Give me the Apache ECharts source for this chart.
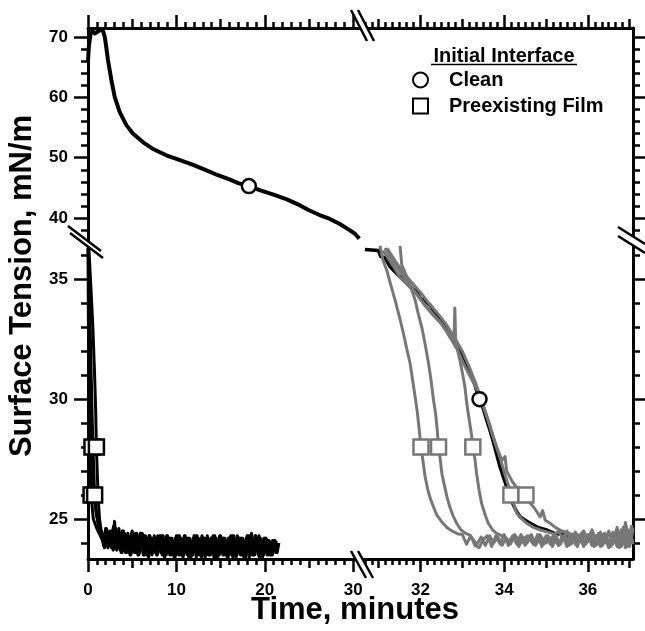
<!DOCTYPE html>
<html><head><meta charset="utf-8">
<script src="https://cdn.jsdelivr.net/npm/echarts@6/dist/echarts.min.js"></script>
<style>html,body{margin:0;padding:0;background:#fff}#c{width:645px;height:631px}</style>
</head><body><div id="c"></div>
<script>
// ---------------- DATA ----------------
// Axis segments (broken axes)
const X_LEFT = [0, 31];
const X_RIGHT = [30.6, 37.08];
const Y_UP = [36.2, 71.5];
const Y_LOW = [23.33, 36.6];

// tick labels
const xLabelsLeft = [0, 10, 20, 30];
const xLabelsRight = [32, 34, 36];
const yLabelsUp = [40, 50, 60, 70];
const yLabelsLow = [25, 30, 35];
const xMidLeft = [5, 15, 25];
const xMidRight = [31, 33, 35, 37];

// Clean interface (black), part 1 (upper-left segment)
const cleanUpper = [[0,66.0],[0.1,68.5],[0.3,70.6],[0.5,71.0],[0.8,70.6],[1.1,70.9],[1.4,71.2],[1.7,71.0],[1.9,70.0],[2.05,68.5],[2.26,66.2],[2.64,62.9],[3.02,60.1],[3.58,57.6],[4.34,55.4],[5.08,54.0],[6.2,52.6],[7.3,51.5],[8.86,50.4],[10.4,49.6],[11.9,48.8],[13.4,47.9],[14.7,47.1],[16.0,46.4],[17.0,45.8],[18.2,45.3],[19.5,44.6],[21.0,43.9],[22.5,43.1],[24.0,42.1],[25.0,41.3],[26.2,40.5],[27.3,39.9],[28.4,39.1],[29.6,38.0],[30.2,37.4],[30.7,36.6]];
// Clean interface (black), part 2 (lower-right segment)
const cleanLower = [[30.67,36.25],[30.99,36.2],[31.05,35.95],[31.15,35.9],[31.27,35.53],[31.4,35.3],[31.55,35.04],[31.65,34.9],[31.79,34.63],[31.9,34.5],[31.99,34.21],[32.1,34.1],[32.23,33.93],[32.35,33.6],[32.47,33.3],[32.6,33.0],[32.71,32.6],[32.8,32.4],[32.9,32.12],[33.0,31.8],[33.1,31.5],[33.18,31.2],[33.26,30.8],[33.41,30.0],[33.5,29.6],[33.58,29.13],[33.66,28.7],[33.74,28.22],[33.82,27.7],[33.9,27.18],[33.98,26.75],[34.06,26.35],[34.14,25.95],[34.22,25.58],[34.3,25.3],[34.38,25.09],[34.5,24.95],[34.62,24.82],[34.8,24.65],[35.02,24.54],[35.2,24.4],[35.4,24.35],[35.6,24.3]];
const cleanMarkUpper = [[18.2, 45.3]];
const cleanMarkLower = [[33.41, 30.0]];

// Preexisting film, fast runs (black, lower-left segment)
const filmL1 = [[0.02,36.3],[0.15,33.5],[0.3,30.5],[0.45,28.0],[0.6,26.6],[0.8,25.6],[1.1,24.9],[1.3,24.6],[1.5,24.5],[1.75,23.9],[2.0,24.6],[2.25,23.8],[2.5,24.5],[2.75,23.8],[3.0,24.9],[3.25,23.7],[3.5,24.6],[3.75,23.6],[4.0,24.5],[4.25,23.6],[4.5,24.4],[4.75,23.5],[5.0,24.5],[5.25,23.6],[5.5,24.4],[5.75,23.5],[6.0,24.4],[6.25,23.5],[6.5,24.3],[6.75,23.6],[7.0,24.3],[7.25,23.5],[7.5,24.3],[7.75,23.5],[8.0,24.2],[8.25,23.6],[8.5,24.3],[8.75,23.5],[9.0,24.3],[9.25,23.5],[9.5,24.2],[9.75,23.4],[10.0,24.3],[10.25,23.5],[10.5,24.2],[10.75,23.4],[11.0,24.3],[11.25,23.5],[11.5,24.2],[11.75,23.5],[12.0,24.3],[12.25,23.4],[12.5,24.2],[12.75,23.5],[13.0,24.2],[13.25,23.4],[13.5,24.3],[13.75,23.5],[14.0,24.2],[14.25,23.4],[14.5,24.2],[14.75,23.5],[15.0,24.3],[15.25,23.5],[15.5,24.2],[15.75,23.4],[16.0,24.2],[16.25,23.5],[16.5,24.3],[16.75,23.4],[17.0,24.2],[17.25,23.5],[17.5,24.2],[17.75,23.5],[18.0,24.3],[18.25,23.4],[18.5,24.4],[18.75,23.5],[19.0,24.3],[19.25,23.5],[19.5,24.2],[19.75,23.4],[20.0,24.2],[20.25,23.5],[20.5,24.1],[20.75,23.5],[21.0,24.1],[21.25,23.6],[21.5,24.0]];
const filmL2 = [[0.1,36.3],[0.35,34.5],[0.55,33.0],[0.75,31.0],[0.87,29.5],[0.95,28.0],[1.05,26.9],[1.15,25.9],[1.3,25.0],[1.5,24.5],[1.7,24.2],[2.1,24.6],[2.4,23.9],[2.9,24.7],[3.4,23.8],[3.9,24.5],[4.4,23.6],[4.9,24.4],[5.4,23.6],[5.9,24.4],[6.4,23.5],[6.9,24.3],[7.4,23.6],[7.9,24.3],[8.4,23.5],[8.9,24.3],[9.4,23.5],[9.9,24.2],[10.4,23.5],[10.9,24.3],[11.4,23.4],[11.9,24.2],[12.4,23.5],[12.9,24.3],[13.4,23.5],[13.9,24.2],[14.4,23.4],[14.9,24.3],[15.4,23.5],[15.9,24.2],[16.4,23.4],[16.9,24.3],[17.4,23.5],[17.9,24.2],[18.4,23.5],[18.9,24.3],[19.4,23.4],[19.9,24.2],[20.4,23.5],[20.9,24.1],[21.4,23.6],[21.6,24.0]];
const filmL3 = [[0.0,36.3],[0.05,33.0],[0.12,30.0],[0.2,28.0],[0.35,26.0],[0.6,25.0],[1.0,24.6],[1.4,24.3],[1.9,23.9],[2.15,24.5],[2.65,23.8],[3.15,24.6],[3.65,23.7],[4.15,24.4],[4.65,23.6],[5.15,24.3],[5.65,23.5],[6.15,24.4],[6.65,23.5],[7.15,24.2],[7.65,23.6],[8.15,24.3],[8.65,23.4],[9.15,24.2],[9.65,23.5],[10.15,24.3],[10.65,23.5],[11.15,24.2],[11.65,23.4],[12.15,24.3],[12.65,23.5],[13.15,24.2],[13.65,23.5],[14.15,24.3],[14.65,23.4],[15.15,24.2],[15.65,23.5],[16.15,24.3],[16.65,23.5],[17.15,24.2],[17.65,23.4],[18.15,24.3],[18.65,23.5],[19.15,24.2],[19.65,23.5],[20.15,24.2],[20.65,23.5],[21.15,24.1],[21.45,23.7]];
const filmL4 = [[0.05,36.3],[0.15,34.5],[0.3,32.0],[0.45,29.5],[0.6,27.6],[0.75,26.0],[0.95,25.2],[1.3,24.6],[1.6,24.3],[1.85,23.8],[2.35,24.4],[2.85,23.7],[3.35,24.5],[3.85,23.6],[4.35,24.3],[4.85,23.5],[5.35,24.4],[5.85,23.6],[6.35,24.3],[6.85,23.4],[7.35,24.2],[7.85,23.5],[8.35,24.3],[8.85,23.5],[9.35,24.2],[9.85,23.4],[10.35,24.3],[10.85,23.5],[11.35,24.2],[11.85,23.5],[12.35,24.3],[12.85,23.4],[13.35,24.2],[13.85,23.5],[14.35,24.3],[14.85,23.5],[15.35,24.2],[15.85,23.4],[16.35,24.3],[16.85,23.5],[17.35,24.2],[17.85,23.4],[18.35,24.3],[18.85,23.5],[19.35,24.3],[19.85,23.5],[20.35,24.1],[20.85,23.5],[21.3,24.1]];
const filmMarkLeft = [[0.45,28],[0.95,28],[0.35,26],[0.75,26]];

// Preexisting film, slow runs (gray, lower-right segment)
const filmA = [[31.03,36.4],[31.1,35.8],[31.19,35.39],[31.3,34.7],[31.41,34.01],[31.5,33.4],[31.59,32.75],[31.67,32.1],[31.75,31.5],[31.81,30.8],[31.87,30.1],[31.92,29.5],[31.97,28.7],[32.01,28.0],[32.06,27.4],[32.11,26.75],[32.17,26.25],[32.23,25.87],[32.31,25.5],[32.39,25.16],[32.5,24.9],[32.63,24.64],[32.75,24.5],[32.9,24.37],[33.0,24.35],[33.1,23.95],[33.2,24.3],[33.3,23.9],[33.4,23.8],[33.5,24.15],[33.6,24.3],[33.7,23.85],[33.8,24.3],[33.9,23.95],[34.0,24.35],[34.1,23.9],[34.2,24.3],[34.3,23.95],[34.4,24.35],[34.5,23.9],[34.6,24.3],[34.7,23.95],[34.8,24.35],[34.9,23.85],[35.0,24.3],[35.1,23.95],[35.2,24.35],[35.3,23.9],[35.4,24.3],[35.5,23.85],[35.6,24.35],[35.7,23.95],[35.8,24.3],[35.9,23.85],[36.0,24.35],[36.1,23.9],[36.2,24.3],[36.3,23.85],[36.4,24.4],[36.5,23.8],[36.6,24.45],[36.7,23.85],[36.8,24.55],[36.9,23.8],[37.0,24.5],[37.08,23.95]];
const filmB = [[31.51,36.4],[31.55,35.6],[31.67,35.11],[31.78,34.6],[31.87,34.14],[31.94,33.6],[32.03,33.0],[32.12,32.2],[32.19,31.5],[32.25,30.8],[32.31,29.96],[32.36,29.4],[32.4,28.7],[32.43,28.0],[32.47,27.5],[32.51,26.9],[32.57,26.4],[32.63,25.93],[32.7,25.5],[32.78,25.12],[32.87,24.8],[32.97,24.54],[33.08,24.4],[33.18,24.33],[33.25,24.15],[33.35,23.95],[33.45,24.25],[33.55,23.9],[33.65,24.3],[33.75,24.0],[33.85,24.25],[33.95,23.9],[34.05,24.2],[34.15,23.95],[34.25,24.3],[34.35,23.85],[34.45,24.25],[34.55,24.0],[34.65,24.35],[34.75,23.9],[34.85,24.2],[34.95,23.95],[35.05,24.3],[35.15,23.85],[35.25,24.25],[35.35,23.95],[35.45,24.35],[35.55,23.9],[35.65,24.2],[35.75,23.85],[35.85,24.3],[35.95,23.95],[36.05,24.25],[36.15,23.85],[36.25,24.4],[36.35,23.9],[36.45,24.25],[36.55,23.85],[36.65,24.35],[36.75,23.8],[36.85,24.65],[36.95,23.85],[37.05,24.75]];
const filmC = [[31.15,36.3],[31.3,35.9],[31.46,35.47],[31.6,35.1],[31.75,34.76],[31.92,34.35],[32.1,33.93],[32.3,33.5],[32.47,33.2],[32.6,32.9],[32.71,32.68],[32.8,32.5],[32.82,33.8],[32.84,32.4],[32.94,31.63],[33.0,31.1],[33.06,30.52],[33.1,29.9],[33.14,29.41],[33.18,28.95],[33.22,28.5],[33.25,28.0],[33.3,27.5],[33.34,26.9],[33.4,26.2],[33.46,25.65],[33.54,25.2],[33.62,24.82],[33.72,24.55],[33.82,24.4],[33.95,24.3],[34.1,24.05],[34.25,24.35],[34.4,24.0],[34.55,24.3],[34.7,23.95],[34.85,24.35],[35.0,24.0],[35.15,24.25],[35.3,23.9],[35.45,24.3],[35.6,23.95],[35.75,24.35],[35.9,23.95],[36.05,24.3],[36.2,23.9],[36.35,24.35],[36.5,23.85],[36.65,24.4],[36.8,23.85],[36.95,24.55],[37.08,24.05]];
const filmD = [[31.1,36.2],[31.3,35.7],[31.5,35.1],[31.7,34.75],[31.9,34.4],[32.1,33.95],[32.3,33.55],[32.5,33.15],[32.7,32.6],[32.9,32.0],[33.05,31.4],[33.2,30.9],[33.35,30.4],[33.5,29.7],[33.66,28.9],[33.78,28.2],[33.9,27.55],[34.02,26.85],[34.1,26.4],[34.16,26.0],[34.23,25.6],[34.3,25.24],[34.42,25.0],[34.54,24.82],[34.7,24.65],[34.86,24.54],[35.05,24.45],[35.22,24.37],[35.3,24.5],[35.4,24.15],[35.5,24.5],[35.6,24.1],[35.7,24.45],[35.8,24.05],[35.9,24.4],[36.0,24.05],[36.1,24.45],[36.2,24.0],[36.3,24.4],[36.4,24.05],[36.5,24.5],[36.6,23.95],[36.7,24.55],[36.8,23.9],[36.9,24.75],[37.0,23.85],[37.08,24.55]];
const filmE = [[31.2,36.3],[31.4,35.75],[31.6,35.25],[31.8,34.85],[32.0,34.45],[32.2,34.0],[32.4,33.6],[32.6,33.15],[32.8,32.6],[33.0,32.0],[33.15,31.4],[33.3,30.75],[33.45,30.0],[33.6,29.2],[33.72,28.5],[33.84,27.9],[33.95,27.45],[34.02,27.6],[34.06,27.0],[34.18,26.6],[34.3,26.3],[34.42,26.15],[34.52,26.0],[34.6,25.7],[34.7,25.51],[34.78,25.3],[34.86,25.09],[34.92,25.35],[34.98,24.95],[35.1,24.82],[35.22,24.65],[35.34,24.54],[35.5,24.42],[35.7,24.33],[35.8,24.3],[35.9,24.5],[36.0,24.15],[36.1,24.55],[36.2,24.1],[36.3,24.45],[36.4,24.0],[36.5,24.45],[36.6,24.05],[36.7,24.65],[36.8,23.95],[36.9,24.85],[37.0,23.95],[37.08,24.65]];
const filmMarkRight = [[32.01,28],[32.43,28],[33.25,28],[34.16,26],[34.52,26]];

// ---------------- TICKS ----------------
function range(a, b, s) { const r = []; for (let v = a; v <= b + 1e-9; v += s) r.push(+v.toFixed(4)); return r; }
const xMinLeft = range(0, 31, 1);
const xMinRight = []; for (let i = 184; i <= 222; i++) xMinRight.push(+(i / 6).toFixed(4));
const yMinUp = range(38, 70, 2);
const yMinLow = range(24, 36, 1);

// ---------------- CHART ----------------
const FONT = '"Liberation Sans", Arial, Helvetica, sans-serif';
const GRAY = '#777777';
const grids = [
  {left: 88, top: 28, width: 274, height: 213},
  {left: 362, top: 28, width: 271, height: 213},
  {left: 88, top: 241, width: 274, height: 318},
  {left: 362, top: 241, width: 271, height: 318}
];
function ax(gridIndex, position, rng, ticks, len, showLine, labels, margin) {
  return {
    type: 'value', gridIndex, position, min: rng[0], max: rng[1],
    axisLine: {show: showLine, onZero: false, lineStyle: {color: '#000', width: 3}},
    axisTick: {show: true, inside: false, length: len, customValues: ticks, lineStyle: {color: '#000', width: 2.5}},
    minorTick: {show: false},
    splitLine: {show: false},
    axisLabel: labels ? {show: true, customValues: labels, margin: margin, color: '#000',
      fontFamily: FONT, fontWeight: 'bold', fontSize: 17} : {show: false}
  };
}
const xAxes = [
  ax(0, 'top', X_LEFT, xLabelsLeft, 13, true),
  ax(0, 'top', X_LEFT, xMidLeft, 9, false),
  ax(0, 'top', X_LEFT, xMinLeft, 6, false),
  ax(1, 'top', X_RIGHT, xLabelsRight, 13, true),
  ax(1, 'top', X_RIGHT, xMidRight, 9, false),
  ax(1, 'top', X_RIGHT, xMinRight, 6, false),
  ax(2, 'bottom', X_LEFT, xLabelsLeft, 13, true, xLabelsLeft, 23),
  ax(2, 'bottom', X_LEFT, xMidLeft, 9, false),
  ax(2, 'bottom', X_LEFT, xMinLeft, 6, false),
  ax(3, 'bottom', X_RIGHT, xLabelsRight, 13, true, xLabelsRight, 23),
  ax(3, 'bottom', X_RIGHT, xMidRight, 9, false),
  ax(3, 'bottom', X_RIGHT, xMinRight, 6, false)
];
const yAxes = [
  ax(0, 'left', Y_UP, yLabelsUp, 14, true, yLabelsUp, 20),
  ax(0, 'left', Y_UP, yMinUp, 7, false),
  ax(1, 'right', Y_UP, yLabelsUp, 14, true),
  ax(1, 'right', Y_UP, yMinUp, 7, false),
  ax(2, 'left', Y_LOW, yLabelsLow, 14, true, yLabelsLow, 20),
  ax(2, 'left', Y_LOW, yMinLow, 7, false),
  ax(3, 'right', Y_LOW, yLabelsLow, 14, true),
  ax(3, 'right', Y_LOW, yMinLow, 7, false)
];
// main axis indices per grid: [xIdx, yIdx]
const G = [[0, 0], [3, 2], [6, 4], [9, 6]];

function lineS(name, data, g, color, width, z) {
  return {type: 'line', name, data, xAxisIndex: G[g][0], yAxisIndex: G[g][1],
    symbol: 'none', showSymbol: false, smooth: false, animation: false, z: z || 2,
    lineStyle: {color, width, join: 'round'}, itemStyle: {color}};
}
function markS(name, data, g, symbol, size, border) {
  return {type: 'scatter', name, data, xAxisIndex: G[g][0], yAxisIndex: G[g][1],
    symbol, symbolSize: size, z: 5, animation: false,
    itemStyle: {color: '#fff', borderColor: border, borderWidth: 2.5, opacity: 1}};
}

const series = [
  lineS('Clean trace', cleanUpper, 0, '#000', 4),
  lineS('Clean trace', cleanLower, 3, '#000', 3.5),
  lineS('Film run 1', filmL1, 2, '#000', 3),
  lineS('Film run 2', filmL2, 2, '#000', 3),
  lineS('Film run 3', filmL3, 2, '#000', 3),
  lineS('Film run 4', filmL4, 2, '#000', 3),
  lineS('Film run A', filmA, 3, GRAY, 3, 3),
  lineS('Film run B', filmB, 3, GRAY, 3, 3),
  lineS('Film run C', filmC, 3, GRAY, 3, 3),
  lineS('Film run D', filmD, 3, GRAY, 3, 3),
  lineS('Film run E', filmE, 3, GRAY, 3, 3),
  markS('Clean', cleanMarkUpper, 0, 'circle', 14, '#000'),
  markS('Clean', cleanMarkLower, 3, 'circle', 14, '#000'),
  markS('Preexisting Film', filmMarkLeft, 2, 'rect', 15, '#000'),
  markS('Preexisting Film, later runs', filmMarkRight, 3, 'rect', 15, GRAY)
];

function brk(p1a, p1b, p2a, p2b) {
  return [
    {type: 'polygon', z: 100, shape: {points: [p1a, p1b, p2b, p2a]}, style: {fill: '#fff', stroke: null}},
    {type: 'line', z: 101, shape: {x1: p1a[0], y1: p1a[1], x2: p1b[0], y2: p1b[1]}, style: {stroke: '#000', lineWidth: 2.5}},
    {type: 'line', z: 101, shape: {x1: p2a[0], y1: p2a[1], x2: p2b[0], y2: p2b[1]}, style: {stroke: '#000', lineWidth: 2.5}}
  ];
}

const option = {
  animation: false,
  backgroundColor: '#fff',
  textStyle: {fontFamily: FONT},
  grid: grids,
  xAxis: xAxes,
  yAxis: yAxes,
  legend: {
    show: true, orient: 'vertical', left: 407, top: 65,
    itemWidth: 15, itemHeight: 15, itemGap: 6, selectedMode: false,
    data: [{name: 'Clean', icon: 'circle'}, {name: 'Preexisting Film', icon: 'rect'}],
    textStyle: {fontFamily: FONT, fontSize: 20, fontWeight: 'bold', color: '#000', lineHeight: 20, padding: [0, 0, 0, 16]}
  },
  series,
  graphic: [
    {type: 'text', x: 504, y: 56, z: 100, style: {text: 'Initial Interface', fill: '#000',
      font: 'bold 20px ' + FONT, align: 'center', verticalAlign: 'middle'}},
    {type: 'line', z: 100, shape: {x1: 431, y1: 64.5, x2: 577, y2: 64.5}, style: {stroke: '#000', lineWidth: 1.5}},
    {type: 'text', x: 355, y: 610, z: 100, style: {text: 'Time, minutes', fill: '#000',
      font: 'bold 31px ' + FONT, align: 'center', verticalAlign: 'middle'}},
    {type: 'text', x: 22, y: 286, z: 100, rotation: Math.PI / 2, style: {text: 'Surface Tension, mN/m', fill: '#000',
      font: 'bold 31px ' + FONT, align: 'center', verticalAlign: 'middle'}},
    ...brk([351, 551], [366, 578], [358, 551], [373, 578]),
    ...brk([351, 10], [367, 41], [358, 10], [374, 41]),
    ...brk([68, 226], [101, 251], [70, 233], [103, 258]),
    ...brk([618, 227], [645, 244], [618, 236], [645, 253])
  ]
};
const chart = echarts.init(document.getElementById('c'), null, {renderer: 'canvas'});
chart.setOption(option);
</script></body></html>
